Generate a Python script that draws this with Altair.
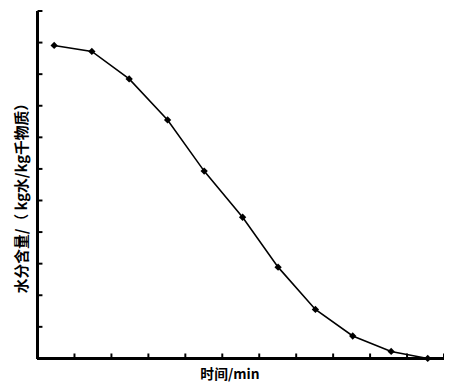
import altair as alt
import pandas as pd

time_min = [0.45, 1.47, 2.48, 3.52, 4.51, 5.55, 6.51, 7.52, 8.53, 9.57, 10.56]
moisture = [9.91, 9.72, 8.85, 7.55, 5.93, 4.47, 2.89, 1.55, 0.71, 0.22, 0.0]
x_ticks = list(range(0, 12))
y_ticks = list(range(0, 12))

W, H = 413, 353
df = pd.DataFrame({"t": time_min, "m": moisture})
xt = pd.DataFrame({"v": x_ticks})
yt = pd.DataFrame({"v": y_ticks})

font = "Noto Sans CJK SC"

x_axis = alt.Axis(ticks=False, labels=False, domain=False, grid=False,
                  title="时间/min", titleFont=font, titleFontSize=14,
                  titleFontWeight="bold", titleColor="black",
                  titleX=195, titleY=9, titleBaseline="top", titleAnchor="middle")
y_axis = alt.Axis(ticks=False, labels=False, domain=False, grid=False,
                  title="水分含量/（ kg水/kg千物质）", titleFont=font,
                  titleFontSize=15, titleFontWeight="bold", titleColor="black",
                  titleX=-16, titleY=186, titleBaseline="middle", titleAnchor="middle")

x_scale = alt.Scale(domain=[0, 11], nice=False, zero=False)
y_scale = alt.Scale(domain=[0, 11], nice=False, zero=False)

line = alt.Chart(df).mark_line(color="black", strokeWidth=1.6).encode(
    x=alt.X("t:Q", scale=x_scale, axis=x_axis),
    y=alt.Y("m:Q", scale=y_scale, axis=y_axis))
pts = alt.Chart(df).mark_point(shape="diamond", filled=True, color="black", size=55, opacity=1).encode(
    x=alt.X("t:Q", scale=x_scale, axis=x_axis),
    y=alt.Y("m:Q", scale=y_scale, axis=y_axis))

y_tick_marks = alt.Chart(yt).mark_rule(color="black", strokeWidth=2).encode(
    y=alt.Y("v:Q", scale=y_scale, axis=y_axis), x=alt.value(0), x2=alt.value(5))
x_tick_marks = alt.Chart(xt).mark_rule(color="black", strokeWidth=2).encode(
    x=alt.X("v:Q", scale=x_scale, axis=x_axis), y=alt.value(H - 5), y2=alt.value(H))

left_axis = alt.Chart(df).mark_rule(color="black", strokeWidth=3).encode(
    x=alt.value(0), y=alt.value(0), y2=alt.value(H))
bottom_axis = alt.Chart(df).mark_rule(color="black", strokeWidth=3).encode(
    x=alt.value(0), x2=alt.value(W), y=alt.value(H))

chart = alt.layer(line, pts, y_tick_marks, x_tick_marks, left_axis, bottom_axis).properties(
    width=W, height=H,
    autosize=alt.AutoSizeParams(type="none"),
    padding={"left": 30, "top": 0, "right": 0, "bottom": 26},
).configure_view(stroke=None)

chart.save("out.html", embed_options={"renderer": "svg", "actions": False})
